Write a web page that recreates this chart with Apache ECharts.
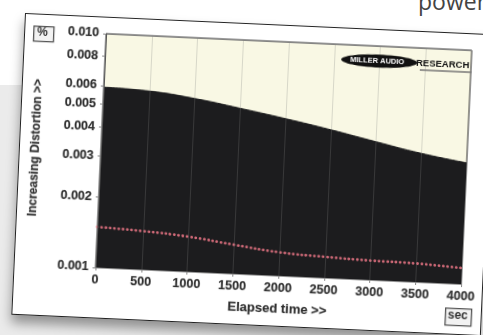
<!DOCTYPE html>
<html>
<head>
<meta charset="utf-8">
<script src="https://cdn.jsdelivr.net/npm/echarts@6/dist/echarts.min.js"></script>
<style>
  html, body { margin: 0; padding: 0; width: 483px; height: 335px; overflow: hidden; background: #ffffff; position: relative; }
  #bgband { position: absolute; left: 0; top: 85px; width: 472px; height: 250px; background: #ebebeb; }
  #power { position: absolute; left: 418px; top: -10px; font-family: "Open Sans", sans-serif; font-size: 23px; line-height: 23px; color: #444; }
  #card { position: absolute; left: 25px; top: 13px; width: 470px; height: 302px; background: #ffffff;
          border: 1px solid #222; box-sizing: border-box; transform-origin: 0 0; transform: rotate(2.6deg);
          box-shadow: 0 8px 12px rgba(0,0,0,0.38); }
  #chart { width: 470px; height: 302px; position: absolute; left: -1px; top: -1px; }
</style>
</head>
<body>
<div id="bgband"></div>
<div id="power">power</div>
<div id="card"><div id="chart"></div></div>
<script>
// ---- data ----
const elapsedSec = [0, 500, 1000, 1500, 2000, 2500, 3000, 3500, 4000];
const upperDistortion = [0.0059, 0.0058, 0.0055, 0.0051, 0.0047, 0.0043, 0.0039, 0.00355, 0.0033];
const lowerDistortion = [0.00149, 0.00146, 0.00141, 0.00133, 0.00126, 0.00123, 0.00121, 0.0012, 0.00117];
const yTickValues = [0.001, 0.002, 0.003, 0.004, 0.005, 0.006, 0.008, 0.010];
const yGridValues = [0.002, 0.003, 0.004, 0.005, 0.006, 0.007, 0.008, 0.009];
const xTickLabels = ['0', '500', '1000', '1500', '2000', '2500', '3000', '3500', '4000'];

const chart = echarts.init(document.getElementById('chart'), null, { renderer: 'canvas' });
const labelFont = { fontFamily: 'Liberation Sans, Arial, sans-serif', fontWeight: 'bold', fontSize: 12.5, color: '#2e2e2e', textBorderColor: 'rgba(90,90,90,0.35)', textBorderWidth: 0.6 };

const option = {
  animation: false,
  grid: { left: 82, top: 17, width: 366, height: 234, show: true, backgroundColor: '#f9f8e4', borderColor: '#333', borderWidth: 1 },
  xAxis: {
    type: 'value', min: 0, max: 4000, interval: 500, z: 10,
    name: 'Elapsed time >>', nameLocation: 'middle', nameGap: 27,
    nameTextStyle: Object.assign({}, labelFont, { fontSize: 13 }),
    axisLine: { show: false },
    axisTick: { show: true, length: 3, lineStyle: { color: '#888' } },
    axisLabel: Object.assign({}, labelFont, { margin: 6, formatter: (v) => xTickLabels[elapsedSec.indexOf(v)] ?? '' }),
    splitLine: { show: true, lineStyle: { color: 'rgba(128,128,128,0.28)', width: 1 } }
  },
  yAxis: {
    type: 'log', logBase: 10, min: 0.001, max: 0.01, z: 10,
    name: 'Increasing Distortion >>', nameLocation: 'middle', nameGap: 59, nameRotate: 90,
    nameTextStyle: Object.assign({}, labelFont, { fontSize: 12 }),
    axisLine: { show: true, lineStyle: { color: '#555', width: 1 } },
    axisTick: { show: true, length: 3, customValues: yTickValues, lineStyle: { color: '#888' } },
    axisLabel: Object.assign({}, labelFont, { margin: 7, customValues: yTickValues, formatter: (v) => Number(v).toFixed(3) }),
    splitLine: { show: false }
  },
  series: [
    {
      type: 'line', name: 'upper', smooth: true, showSymbol: false, z: 2,
      data: elapsedSec.map((x, i) => [x, upperDistortion[i]]),
      lineStyle: { color: '#1c1c1e', width: 1 },
      areaStyle: { color: '#1c1c1e', opacity: 1, origin: 'start' }
    },
    {
      type: 'line', name: 'lower', smooth: true, showSymbol: false, z: 3,
      data: elapsedSec.map((x, i) => [x, lowerDistortion[i]]),
      lineStyle: { color: '#d06a78', width: 2.8, type: [0.1, 4.2], cap: 'round' }
    },
    {
      type: 'line', name: 'grid', showSymbol: false, z: 10, silent: true,
      data: [[0, 0.001]], lineStyle: { opacity: 0 },
      markLine: {
        silent: true, symbol: 'none', label: { show: false }, animation: false,
        lineStyle: { color: 'rgba(128,128,128,0.28)', width: 1, type: 'solid' },
        data: yGridValues.map(v => ({ yAxis: v }))
      }
    }
  ],
  graphic: [
    { type: 'rect', left: 9, top: 12, shape: { width: 20, height: 15 }, style: { fill: '#f2f2f2', stroke: '#555', lineWidth: 1.3 }, z: 20 },
    { type: 'text', left: 13, top: 13, style: { text: '%', font: 'bold 12px Liberation Sans, Arial, sans-serif', fill: '#333' }, z: 21 },
    { type: 'rect', left: 433, top: 275, shape: { width: 26, height: 17 }, style: { fill: '#f2f2f2', stroke: '#555', lineWidth: 1.3 }, z: 20 },
    { type: 'text', left: 436, top: 277, style: { text: 'sec', font: 'bold 12px Liberation Sans, Arial, sans-serif', fill: '#333' }, z: 21 },
    { type: 'ellipse', shape: { cx: 356, cy: 32, rx: 38, ry: 6.5 }, style: { fill: '#111' }, z: 20 },
    { type: 'text', left: 327, top: 28, style: { text: 'MILLER AUDIO', font: 'bold 7.5px Liberation Sans, Arial, sans-serif', fill: '#fff' }, z: 21 },
    { type: 'text', left: 393, top: 27, style: { text: 'RESEARCH', font: 'bold 9.5px Liberation Sans, Arial, sans-serif', fill: '#111' }, z: 21 },
    { type: 'line', shape: { x1: 397, y1: 39, x2: 449, y2: 39 }, style: { stroke: '#777', lineWidth: 1.5 }, z: 21 }
  ]
};
chart.setOption(option);
</script>
</body>
</html>
